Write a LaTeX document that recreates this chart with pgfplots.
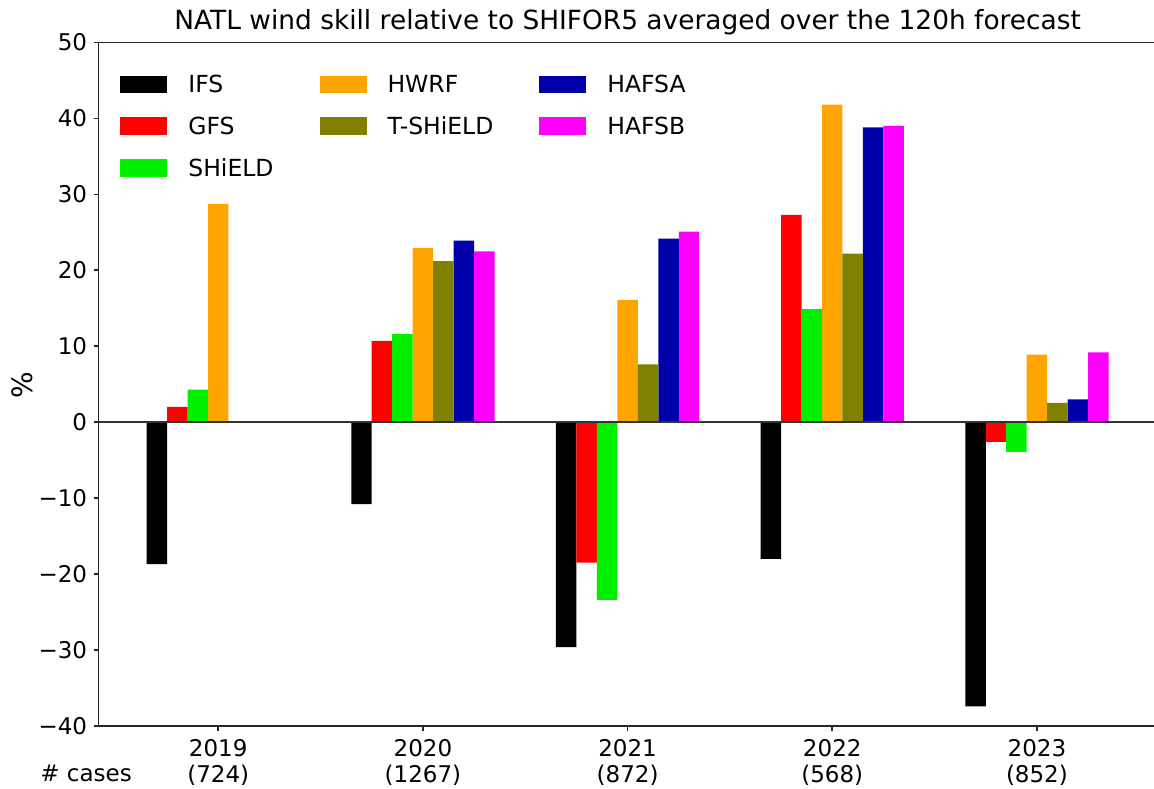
\documentclass[border=0pt]{standalone}
\usepackage{fontspec}
\setmainfont{DejaVu Sans}
\usepackage{pgfplots}
\pgfplotsset{compat=1.18}
\definecolor{cIFS}{RGB}{0,0,0}
\definecolor{cGFS}{RGB}{255,0,0}
\definecolor{cSH}{RGB}{0,240,0}
\definecolor{cHWRF}{RGB}{255,165,0}
\definecolor{cTSH}{RGB}{128,128,0}
\definecolor{cHA}{RGB}{0,0,170}
\definecolor{cHB}{RGB}{255,0,255}
\newcommand{\tf}{\fontsize{11.5}{12.75}\selectfont}
\begin{document}
\begin{tikzpicture}
\begin{axis}[
  at={(0,0)}, anchor=south west,
  scale only axis, width=527.75pt, height=341.8pt,
  xmin=-0.585, xmax=4.572, ymin=-40, ymax=50,
  axis x line*=box, axis y line*=left,
  axis line style={line width=0.8pt, black!85},
  xtick pos=left, ytick pos=left,
  tick align=outside, major tick length=2.3pt,
  every tick/.style={line width=0.8pt, black!85},
  xtick={0,1,2,3,4},
  xticklabels={{2019\\(724)},{2020\\(1267)},{2021\\(872)},{2022\\(568)},{2023\\(852)}},
  xticklabel style={align=center, font=\tf, inner sep=0pt, anchor=north, yshift=-4.3pt},
  ytick={-40,-30,...,50},
  yticklabels={−40,−30,−20,−10,0,10,20,30,40,50},
  yticklabel style={font=\tf, inner sep=0pt, anchor=east, xshift=-3.2pt},
  ybar, bar width=0.1,
  legend columns=3,
  legend cell align=left,
  legend style={draw=none, fill=none, inner sep=0pt, font=\fontsize{11.75}{13}\selectfont,
    at={(axis description cs:0,1)}, anchor=north west, xshift=10.75pt, yshift=-16.4pt,
    nodes={inner sep=0pt, text height=8.4pt, text depth=0pt},
    row sep=12.15pt,
    /tikz/every odd column/.append style={column sep=10.5pt},
    /tikz/every even column/.append style={column sep=23pt}},
  legend image code/.code={\fill[#1] (0pt,-4.375pt) rectangle (23.5pt,4.375pt);},
]
% order chosen so that the row-wise legend matches the column-wise reference
\addplot[fill=cIFS, draw=none, bar shift=-0.3] coordinates {(0,-18.7) (1,-10.8) (2,-29.6) (3,-18.0) (4,-37.4)};
\addlegendentry{IFS}
\addplot[fill=cHWRF, draw=none, bar shift=0] coordinates {(0,28.7) (1,22.9) (2,16.1) (3,41.8) (4,8.9)};
\addlegendentry{HWRF}
\addplot[fill=cHA, draw=none, bar shift=0.2] coordinates {(1,23.9) (2,24.15) (3,38.8) (4,3.0)};
\addlegendentry{HAFSA}
\addplot[fill=cGFS, draw=none, bar shift=-0.2] coordinates {(0,2.0) (1,10.7) (2,-18.5) (3,27.3) (4,-2.6)};
\addlegendentry{GFS}
\addplot[fill=cTSH, draw=none, bar shift=0.1] coordinates {(1,21.2) (2,7.6) (3,22.2) (4,2.55)};
\addlegendentry{T-SHiELD}
\addplot[fill=cHB, draw=none, bar shift=0.3] coordinates {(1,22.5) (2,25.1) (3,39.0) (4,9.2)};
\addlegendentry{HAFSB}
\addplot[fill=cSH, draw=none, bar shift=-0.1] coordinates {(0,4.3) (1,11.6) (2,-23.4) (3,14.9) (4,-3.9)};
\addlegendentry{SHiELD}
\draw[line width=0.8pt, black!80] (axis cs:-0.585,0) -- (axis cs:4.572,0);
\end{axis}
\node[anchor=base, inner sep=0pt, font=\fontsize{13.2}{15}\selectfont] at (264.6pt,348pt) {NATL wind skill relative to SHIFOR5 averaged over the 120h forecast};
\node[rotate=90, anchor=center, inner sep=0pt, font=\fontsize{14}{16}\selectfont] at (-38pt,170.5pt) {\%};
\node[anchor=base west, inner sep=0pt, font=\tf] at (-29.25pt,-27.75pt) {\# cases};
\pgfresetboundingbox
\useasboundingbox (-49.25pt,-31pt) rectangle (527.75pt,363pt);
\end{tikzpicture}
\end{document}
